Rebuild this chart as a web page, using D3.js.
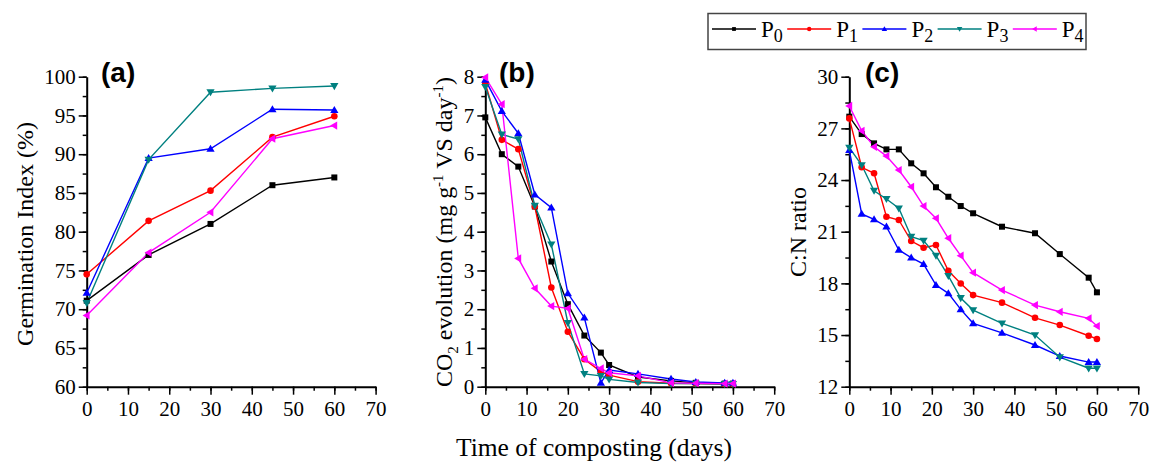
<!DOCTYPE html>
<html><head><meta charset="utf-8">
<script src="https://cdn.jsdelivr.net/npm/d3@7"></script>
<style>body{margin:0;background:#fff}svg{display:block}</style>
</head><body><svg id="c" width="1151" height="463"></svg>
<script>
const seriesNames = ["P0","P1","P2","P3","P4"];
const colors = ["#000000","#ff0000","#0000ff","#008080","#ff00ff"];
const symbols = ["square","circle","triUp","triDown","triLeft"];

const daysA = [0,15,30,45,60];
const giP0 = [71.1,77.0,81.0,86.0,87.0];
const giP1 = [74.5,81.4,85.3,92.2,94.9];
const giP2 = [72.1,89.5,90.7,95.8,95.7];
const giP3 = [70.8,89.3,98.0,98.5,98.8];
const giP4 = [69.2,77.3,82.5,92.0,93.7];

const daysB = [0,4,8,12,16,20,24,28,30,37,45,51,58,60];
const co2P0 = [6.95,6.0,5.68,4.65,3.23,2.13,1.32,0.88,0.56,0.25,0.15,0.1,0.08,0.08];
const co2P1 = [7.83,6.37,6.13,4.65,2.56,1.42,0.71,0.39,0.30,0.13,0.09,0.08,0.07,0.07];
const co2P2 = [7.92,7.11,6.54,4.96,4.62,2.41,1.78,0.10,0.43,0.33,0.2,0.12,0.1,0.1];
const co2P3 = [7.74,6.51,6.39,4.67,3.67,1.65,0.33,0.28,0.19,0.11,0.08,0.08,0.07,0.07];
const co2P4 = [7.98,7.29,3.31,2.54,2.08,2.02,0.71,0.47,0.36,0.28,0.1,0.09,0.08,0.08];

const daysC = [0,3,6,9,12,15,18,21,24,27,30,37,45,51,58,60];
const cnP0 = [27.68,26.67,26.13,25.78,25.78,24.97,24.39,23.58,23.03,22.49,22.07,21.29,20.91,19.70,18.33,17.48];
const cnP1 = [27.58,24.74,24.39,21.87,21.68,20.46,20.07,20.23,18.73,17.99,17.32,16.88,16.0,15.58,14.96,14.77];
const cnP2 = [25.74,22.03,21.72,21.29,19.94,19.49,19.12,17.90,17.42,16.49,15.68,15.13,14.42,13.78,13.43,13.43];
const cnP3 = [25.88,24.87,23.38,22.90,22.36,20.71,20.48,19.61,18.44,17.15,16.45,15.68,15.0,13.71,13.07,13.07];
const cnP4 = [28.3,26.86,25.93,25.39,24.58,23.61,22.49,21.78,20.62,19.61,18.62,17.61,16.74,16.35,15.97,15.52];

const xTicks = [0,10,20,30,40,50,60,70];

const svg = d3.select("#c");
const plotTop = 76.7, plotBottom = 386.7;
const FONT = "'Liberation Serif','Times New Roman',serif";

function marker(g, type, x, y, col, s) {
  s = s || 3.3;
  if (type === "square") g.append("rect").attr("x", x-s+0.3).attr("y", y-s+0.3).attr("width", 2*s-0.6).attr("height", 2*s-0.6).attr("fill", col);
  else if (type === "circle") g.append("circle").attr("cx", x).attr("cy", y).attr("r", s).attr("fill", col);
  else {
    let pts;
    const r = s*1.25;
    if (type === "triUp") pts = [[x, y-r],[x-r, y+r*0.7],[x+r, y+r*0.7]];
    else if (type === "triDown") pts = [[x, y+r],[x-r, y-r*0.7],[x+r, y-r*0.7]];
    else pts = [[x-r, y],[x+r*0.7, y-r],[x+r*0.7, y+r]];
    g.append("polygon").attr("points", pts.map(p=>p.join(",")).join(" ")).attr("fill", col);
  }
}

function panel(cfg) {
  const x = d3.scaleLinear().domain([0,70]).range([cfg.x0, cfg.x0 + 288.9]);
  const y = d3.scaleLinear().domain(cfg.ydom).range([plotBottom, plotTop]);
  const g = svg.append("g");
  const minorX = d3.range(0, 71, 5);
  g.append("g").attr("transform", `translate(0,${plotBottom})`)
    .call(d3.axisBottom(x).tickValues(minorX).tickSize(4).tickFormat("").tickSizeOuter(0))
    .call(a => a.select(".domain").remove());
  const minorY = d3.range(cfg.ydom[0], cfg.ydom[1] + 1e-9, cfg.ystep/2);
  g.append("g").attr("transform", `translate(${cfg.x0},0)`)
    .call(d3.axisLeft(y).tickValues(minorY).tickSize(4).tickFormat("").tickSizeOuter(0))
    .call(a => a.select(".domain").remove());
  g.append("g").attr("transform", `translate(0,${plotBottom})`)
    .call(d3.axisBottom(x).tickValues(xTicks).tickSize(8).tickSizeOuter(0).tickPadding(6));
  const majorY = d3.range(cfg.ydom[0], cfg.ydom[1] + 1e-9, cfg.ystep);
  g.append("g").attr("transform", `translate(${cfg.x0},0)`)
    .call(d3.axisLeft(y).tickValues(majorY).tickSize(8).tickSizeOuter(0).tickPadding(3));
  g.selectAll(".tick line").attr("stroke-width", 1.5);
  g.selectAll(".domain").attr("stroke-width", 2);
  g.selectAll("text").attr("font-family", FONT).attr("font-size", 21).attr("fill", "#000");
  cfg.series.forEach((vals, i) => {
    const line = d3.line().x((d, j) => x(cfg.days[j])).y(d => y(d));
    g.append("path").datum(vals).attr("d", line).attr("fill", "none")
      .attr("stroke", colors[i]).attr("stroke-width", 1.4);
  });
  cfg.series.forEach((vals, i) => {
    vals.forEach((v, j) => marker(g, symbols[i], x(cfg.days[j]), y(v), colors[i]));
  });
  svg.append("text").attr("x", cfg.lx).attr("y", 82).text(cfg.label)
    .attr("font-family", "'Liberation Sans',Arial,sans-serif").attr("font-weight", "bold")
    .attr("font-size", 28);
}

panel({x0: 86.7, ydom: [60,100], ystep: 5, days: daysA, series: [giP0,giP1,giP2,giP3,giP4], label: "(a)", lx: 101});
panel({x0: 485.3, ydom: [0,8], ystep: 1, days: daysB, series: [co2P0,co2P1,co2P2,co2P3,co2P4], label: "(b)", lx: 499});
panel({x0: 849.3, ydom: [12,30], ystep: 3, days: daysC, series: [cnP0,cnP1,cnP2,cnP3,cnP4], label: "(c)", lx: 865});

svg.append("text").attr("transform", "translate(33,234) rotate(-90)").attr("text-anchor", "middle")
  .attr("font-family", FONT).attr("font-size", 24).text("Germination Index (%)");
const co2 = svg.append("text").attr("transform", "translate(452,232) rotate(-90)").attr("text-anchor", "middle")
  .attr("font-family", FONT).attr("font-size", 24);
co2.append("tspan").text("CO");
co2.append("tspan").attr("font-size", 15).attr("dy", 6).text("2");
co2.append("tspan").attr("dy", -6).text(" evolution (mg g");
co2.append("tspan").attr("font-size", 15).attr("dy", -9).text("-1");
co2.append("tspan").attr("dy", 9).text(" VS day");
co2.append("tspan").attr("font-size", 15).attr("dy", -9).text("-1");
co2.append("tspan").attr("dy", 9).text(")");
svg.append("text").attr("transform", "translate(806,232) rotate(-90)").attr("text-anchor", "middle")
  .attr("font-family", FONT).attr("font-size", 24).text("C:N ratio");

svg.append("text").attr("x", 594).attr("y", 456).attr("text-anchor", "middle")
  .attr("font-family", FONT).attr("font-size", 25.5).text("Time of composting (days)");

const lg = svg.append("g");
lg.append("rect").attr("x", 708).attr("y", 13.5).attr("width", 378).attr("height", 36)
  .attr("fill", "#fff").attr("stroke", "#444").attr("stroke-width", 1.5);
seriesNames.forEach((n, i) => {
  const lx = 712 + i*75.2, ly = 29;
  lg.append("line").attr("x1", lx).attr("x2", lx+44).attr("y1", ly).attr("y2", ly)
    .attr("stroke", colors[i]).attr("stroke-width", 1.4);
  marker(lg, symbols[i], lx+22, ly, colors[i], 2.2);
  const t = lg.append("text").attr("x", lx+49).attr("y", 37).attr("font-family", FONT).attr("font-size", 23);
  t.append("tspan").text(n[0]);
  t.append("tspan").attr("font-size", 18).attr("dy", 5).text(n.slice(1));
});
</script></body></html>
